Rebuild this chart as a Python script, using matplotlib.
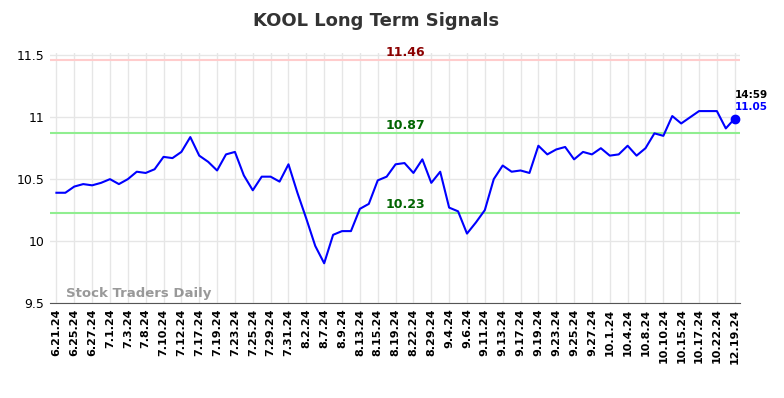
import numpy as np
import matplotlib.pyplot as plt

# Дані
labels = ["6.21.24", "6.25.24", "6.27.24", "7.1.24", "7.3.24", "7.8.24", "7.10.24",
          "7.12.24", "7.17.24", "7.19.24", "7.23.24", "7.25.24", "7.29.24", "7.31.24",
          "8.2.24", "8.7.24", "8.9.24", "8.13.24", "8.15.24", "8.19.24", "8.22.24",
          "8.29.24", "9.4.24", "9.6.24", "9.11.24", "9.13.24", "9.17.24", "9.19.24",
          "9.23.24", "9.25.24", "9.27.24", "10.1.24", "10.4.24", "10.8.24", "10.10.24",
          "10.15.24", "10.17.24", "10.22.24", "12.19.24"]

prices = [10.39, 10.39, 10.44, 10.46, 10.45, 10.47, 10.50, 10.46, 10.50, 10.56,
          10.55, 10.58, 10.68, 10.67, 10.72, 10.84, 10.69, 10.64, 10.57, 10.70,
          10.72, 10.53, 10.41, 10.52, 10.52, 10.48, 10.62, 10.39, 10.18, 9.96,
          9.82, 10.05, 10.08, 10.08, 10.26, 10.30, 10.49, 10.52, 10.62, 10.63,
          10.55, 10.66, 10.47, 10.56, 10.27, 10.24, 10.06, 10.15, 10.25, 10.50,
          10.61, 10.56, 10.57, 10.55, 10.77, 10.70, 10.74, 10.76, 10.66, 10.72,
          10.70, 10.75, 10.69, 10.70, 10.77, 10.69, 10.75, 10.87, 10.85, 11.01,
          10.95, 11.00, 11.05, 11.05, 11.05, 10.91, 10.99]

upper = 11.46
mid = 10.87
lower = 10.23
last_time = "14:59"
last_text = "11.05"

x = np.arange(len(prices))

fig = plt.figure(figsize=(7.84, 3.98), dpi=100)
ax = fig.add_axes([0.064, 0.239, 0.88, 0.628])

ax.plot(x, prices, color='blue', lw=1.5, zorder=3)
ax.plot(x[-1], prices[-1], 'o', color='blue', ms=6, zorder=4)

ax.axhline(upper, color='#ffcccc', lw=1.5)
ax.axhline(mid, color='#90ee90', lw=1.5)
ax.axhline(lower, color='#90ee90', lw=1.5)

xc = 39.1
ax.text(xc, upper + 0.015, f"{upper:.2f}", color='darkred', fontweight='bold',
        ha='center', va='bottom', fontsize=9)
ax.text(xc, mid + 0.01, f"{mid:.2f}", color='darkgreen', fontweight='bold',
        ha='center', va='bottom', fontsize=9)
ax.text(xc, lower + 0.01, f"{lower:.2f}", color='darkgreen', fontweight='bold',
        ha='center', va='bottom', fontsize=9)

ax.text(x[-1], prices[-1] + 0.15, last_time, color='black', fontweight='bold',
        fontsize=7.5, ha='left', va='bottom')
ax.text(x[-1], prices[-1] + 0.05, last_text, color='blue', fontweight='bold',
        fontsize=7.5, ha='left', va='bottom')

ax.text(1.1, 9.52, "Stock Traders Daily", color='gray', alpha=0.8, fontsize=9.5,
        fontweight='bold', ha='left', va='bottom')

ax.set_xlim(-0.7, len(prices) - 0.4)
ax.set_ylim(9.5, 11.52)
ax.set_xticks(x[::2])
ax.set_xticklabels(labels, rotation=90, fontweight='bold', fontsize=8)
ax.set_yticks([9.5, 10, 10.5, 11, 11.5])
ax.set_yticklabels(["9.5", "10", "10.5", "11", "11.5"], fontsize=9)
ax.tick_params(length=0, pad=4)

ax.grid(color='#e6e6e6', lw=1)
ax.set_axisbelow(True)
for s in ['top', 'right', 'left']:
    ax.spines[s].set_visible(False)
ax.spines['bottom'].set_color('#555555')

fig.suptitle("KOOL Long Term Signals", fontsize=13, fontweight='bold',
             color='#333333', x=0.48, y=0.97)

fig.savefig("out.png", dpi=100)
